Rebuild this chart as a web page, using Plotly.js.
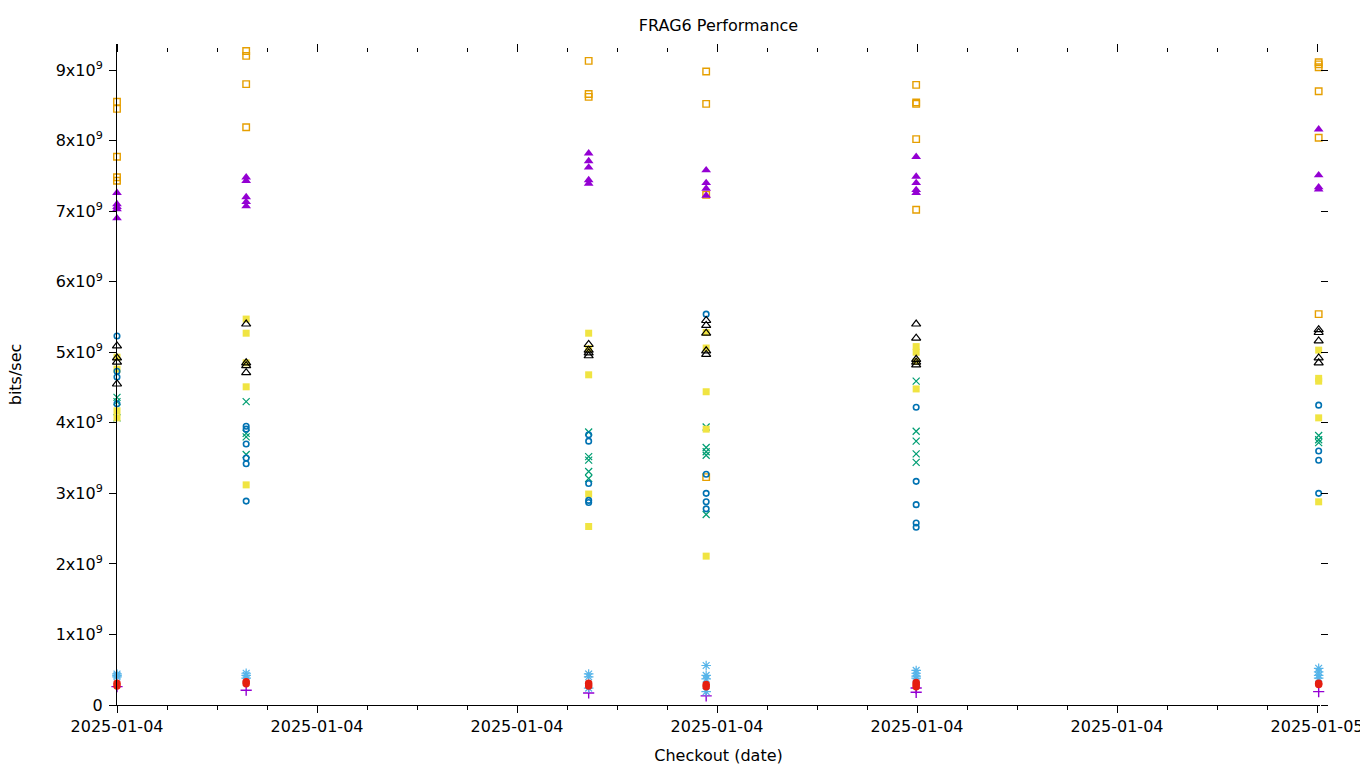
<!DOCTYPE html>
<html>
<head>
<meta charset="utf-8">
<script src="https://cdn.plot.ly/plotly-3.0.1.min.js"></script>
<style>
  html, body { margin: 0; padding: 0; background: #fff; }
  #chartDiv { width: 1360px; height: 768px; }
</style>
</head>
<body>
<div id="chartDiv"></div>
<script>
// checkout times (one column of points per run)
const runTimes = ['2025-01-04 00:00', '2025-01-04 02:35', '2025-01-04 09:26',
                  '2025-01-04 11:47', '2025-01-04 15:59', '2025-01-05 00:02'];

// bits/sec per run, one inner list per checkout
const plusPts = [[0.26e9], [0.21e9], [0.17e9], [0.13e9], [0.24e9, 0.18e9], [0.19e9]];
const crossPts = [[4.36e9, 4.30e9, 4.07e9], [4.30e9, 3.85e9, 3.80e9, 3.55e9],
  [3.87e9, 3.52e9, 3.47e9, 3.31e9, 3.21e9], [3.94e9, 3.65e9, 3.59e9, 3.54e9, 2.70e9],
  [4.59e9, 3.88e9, 3.74e9, 3.56e9, 3.44e9], [3.82e9, 3.76e9, 3.72e9]];
const starPts = [[0.44e9, 0.42e9, 0.40e9], [0.45e9, 0.42e9, 0.38e9], [0.44e9, 0.40e9, 0.24e9],
  [0.56e9, 0.42e9, 0.37e9, 0.19e9], [0.49e9, 0.45e9, 0.41e9, 0.38e9], [0.52e9, 0.47e9, 0.42e9, 0.38e9]];
const sqOpenPts = [[8.55e9, 8.45e9, 7.77e9, 7.48e9, 7.43e9], [9.27e9, 9.20e9, 8.80e9, 8.19e9],
  [9.13e9, 8.66e9, 8.62e9], [8.98e9, 8.52e9, 7.23e9, 3.23e9],
  [8.79e9, 8.54e9, 8.52e9, 8.02e9, 7.02e9], [9.11e9, 9.08e9, 9.04e9, 8.70e9, 8.04e9, 5.54e9]];
const sqFillPts = [[4.93e9, 4.76e9, 4.17e9, 4.07e9], [5.47e9, 5.27e9, 4.85e9, 4.51e9, 3.12e9],
  [5.27e9, 5.05e9, 4.68e9, 2.99e9, 2.53e9], [5.28e9, 5.06e9, 4.44e9, 3.91e9, 2.11e9],
  [5.08e9, 5.00e9, 4.87e9, 4.48e9], [5.03e9, 4.63e9, 4.59e9, 4.07e9, 2.88e9]];
const circOpenPts = [[5.23e9, 4.73e9, 4.65e9, 4.27e9], [3.95e9, 3.91e9, 3.70e9, 3.50e9, 3.42e9, 2.89e9],
  [3.83e9, 3.74e9, 3.14e9, 2.90e9, 2.87e9], [5.54e9, 3.27e9, 3.00e9, 2.88e9, 2.78e9],
  [4.22e9, 3.17e9, 2.84e9, 2.58e9, 2.52e9], [4.25e9, 3.60e9, 3.47e9, 3.00e9]];
const circFillPts = [[0.31e9, 0.27e9], [0.33e9, 0.30e9], [0.31e9, 0.27e9], [0.29e9, 0.26e9],
  [0.32e9, 0.29e9, 0.26e9], [0.31e9, 0.29e9]];
const triOpenPts = [[5.09e9, 4.92e9, 4.86e9, 4.55e9], [5.40e9, 4.85e9, 4.81e9, 4.71e9],
  [5.11e9, 5.03e9, 4.99e9, 4.95e9], [5.45e9, 5.38e9, 5.27e9, 5.02e9, 4.97e9],
  [5.40e9, 5.20e9, 4.90e9, 4.86e9, 4.82e9], [5.32e9, 5.28e9, 5.16e9, 4.92e9, 4.85e9]];
const triFillPts = [[7.26e9, 7.10e9, 7.06e9, 7.03e9, 6.90e9], [7.48e9, 7.43e9, 7.20e9, 7.13e9, 7.07e9],
  [7.82e9, 7.71e9, 7.62e9, 7.44e9, 7.39e9], [7.58e9, 7.40e9, 7.32e9, 7.22e9],
  [7.77e9, 7.49e9, 7.40e9, 7.30e9, 7.26e9], [8.16e9, 7.51e9, 7.34e9, 7.31e9]];

const yTickVals = [0, 1e9, 2e9, 3e9, 4e9, 5e9, 6e9, 7e9, 8e9, 9e9];
const yTickText = ['0', '1x10<sup>9</sup>', '2x10<sup>9</sup>', '3x10<sup>9</sup>', '4x10<sup>9</sup>',
                   '5x10<sup>9</sup>', '6x10<sup>9</sup>', '7x10<sup>9</sup>', '8x10<sup>9</sup>', '9x10<sup>9</sup>'];

function pts(cols, symbol, color, size, filled, lw) {
  const x = [], y = [];
  cols.forEach((vals, i) => vals.forEach(v => { x.push(runTimes[i]); y.push(v); }));
  return {
    x: x, y: y, type: 'scatter', mode: 'markers', cliponaxis: false, hoverinfo: 'x+y',
    marker: {
      // open symbols take their stroke colour from marker.color
      symbol: symbol, size: size, color: color,
      line: { color: color, width: filled ? 0 : (lw || 1.2) }
    }
  };
}

const data = [
  pts(plusPts, 'cross-thin-open', '#9400d3', 8, false, 1.4),
  pts(crossPts, 'x-thin-open', '#009e73', 7, false),
  pts(starPts, 'asterisk-open', '#56b4e9', 8, false),
  pts(sqOpenPts, 'square-open', '#e69f00', 6.5, false, 1.4),
  pts(sqFillPts, 'square', '#f0e442', 7, true),
  pts(circOpenPts, 'circle-open', '#0072b2', 5.5, false, 1.6),
  pts(circFillPts, 'circle', '#e51e10', 7.5, true),
  pts(triOpenPts, 'triangle-up-open', '#000000', 8, false),
  pts(triFillPts, 'triangle-up', '#9400d3', 8.5, true),
  // holds the mirrored tick axes
  { x: [], y: [], type: 'scatter', mode: 'markers', xaxis: 'x2', yaxis: 'y2', hoverinfo: 'skip' }
];

const xRange = ['2025-01-04 00:00', '2025-01-05 00:03:36'];
const yRange = [0, 9.369e9];
const HOUR = 3600000;

const layout = {
  width: 1360, height: 768,
  paper_bgcolor: '#fff', plot_bgcolor: '#fff',
  showlegend: false,
  font: { family: 'DejaVu Sans, sans-serif', size: 16, color: '#000' },
  margin: { l: 117, r: 40, t: 44, b: 63 },
  title: { text: 'FRAG6 Performance', xref: 'paper', x: 0.5, yref: 'container', y: 1 - 25 / 768, yanchor: 'middle',
           font: { size: 16 } },
  xaxis: {
    type: 'date', range: xRange, tick0: '2025-01-04 00:00', dtick: 4 * HOUR, tickformat: '%Y-%m-%d',
    ticks: 'outside', ticklen: 7, tickcolor: '#000', showline: true, linecolor: '#000', linewidth: 1,
    showgrid: false, zeroline: false, ticklabeloverflow: 'allow',
    minor: { dtick: HOUR, tick0: '2025-01-04 00:00', ticks: 'outside', ticklen: 4, tickcolor: '#000', showgrid: false },
    title: { text: 'Checkout (date)', standoff: 14, font: { size: 16 } }
  },
  yaxis: {
    range: yRange, tickvals: yTickVals, ticktext: yTickText,
    ticks: 'outside', ticklen: 7, tickcolor: '#000', showline: true, linecolor: '#000', linewidth: 1,
    showgrid: false, zeroline: false, ticklabelstandoff: 3,
    title: { text: 'bits/sec', standoff: 30, font: { size: 16 } }
  },
  xaxis2: {
    type: 'date', overlaying: 'x', side: 'top', anchor: 'free', position: (705 - 52) / 661,
    range: xRange, tick0: '2025-01-04 00:00', dtick: 4 * HOUR,
    ticks: 'outside', ticklen: 8, tickcolor: '#000', showticklabels: false,
    showline: false, showgrid: false, zeroline: false,
    minor: { dtick: HOUR, tick0: '2025-01-04 00:00', ticks: 'outside', ticklen: 4, tickcolor: '#000', showgrid: false }
  },
  yaxis2: {
    overlaying: 'y', side: 'right', anchor: 'free', position: 1,
    range: yRange, tickvals: yTickVals,
    ticks: 'outside', ticklen: 7, tickcolor: '#000', showticklabels: false,
    showline: false, showgrid: false, zeroline: false
  }
};

Plotly.newPlot('chartDiv', data, layout, { displayModeBar: false });
</script>
</body>
</html>
